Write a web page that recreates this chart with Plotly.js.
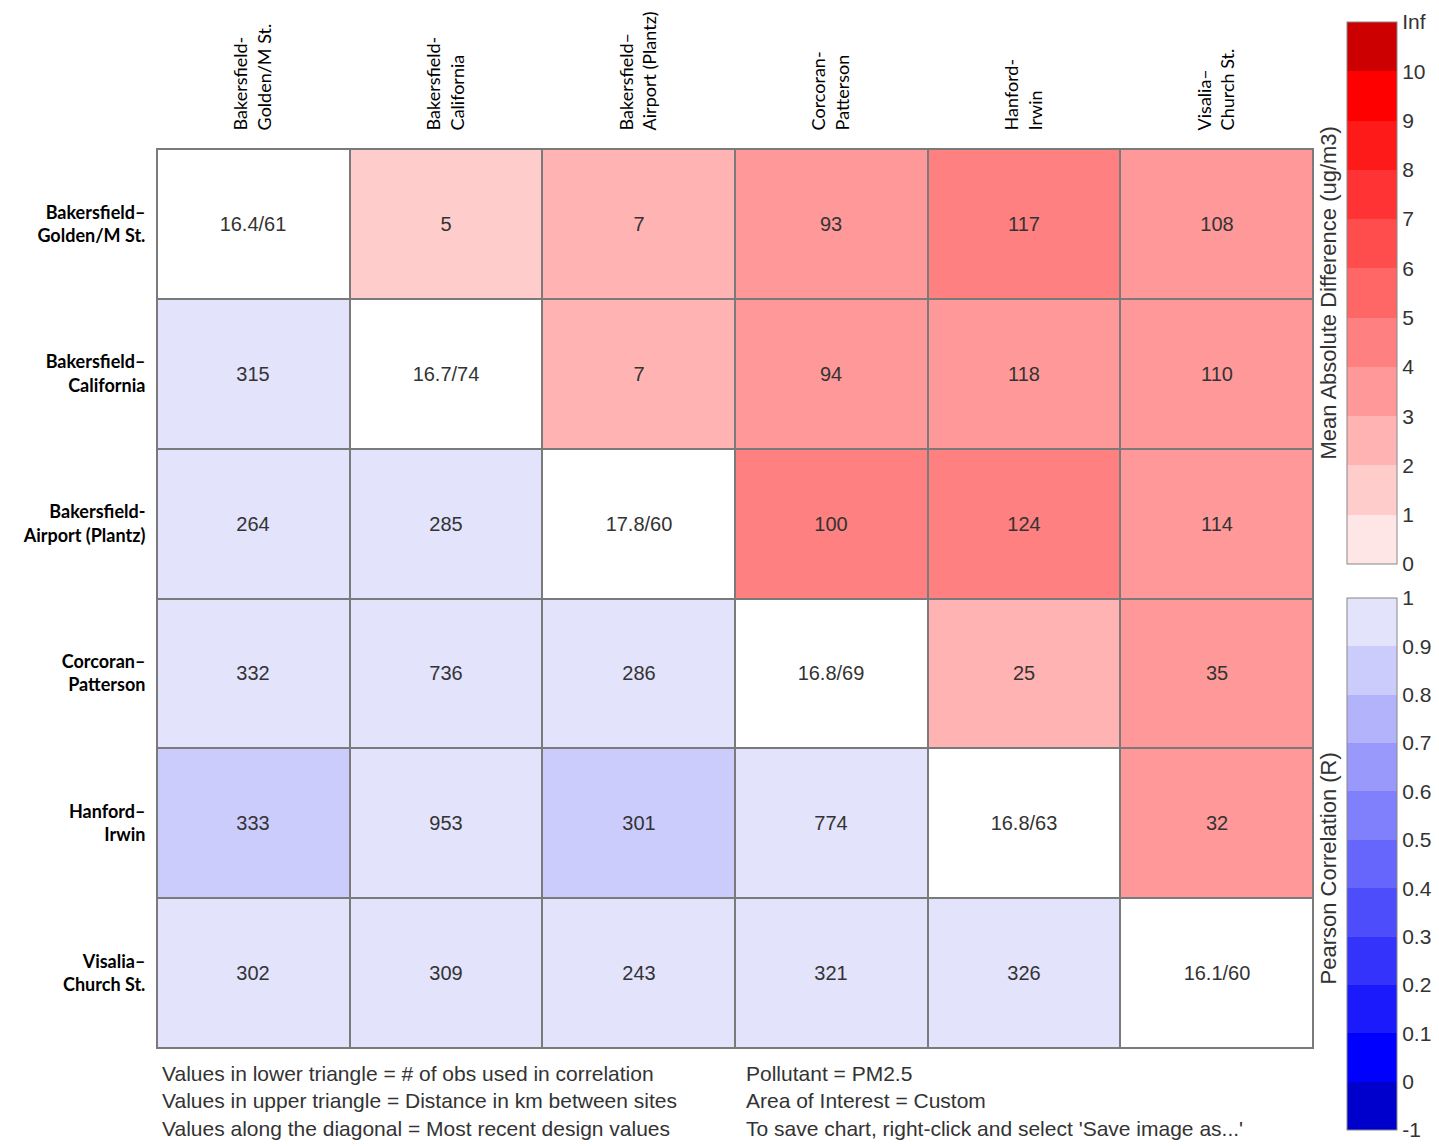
<!DOCTYPE html>
<html>
<head>
<meta charset="utf-8">
<script src="https://cdn.plot.ly/plotly-3.0.1.min.js"></script>
<style>html,body{margin:0;padding:0;background:#fff;}#chart{width:1439px;height:1146px;}</style>
</head>
<body>
<div id="chart"></div>
<script>
// ---- data ----
var rowLabels = ['Bakersfield\u2013<br>Golden/M St.', 'Bakersfield\u2013<br>California', 'Bakersfield-<br>Airport (Plantz)',
                 'Corcoran\u2013<br>Patterson', 'Hanford\u2013<br>Irwin', 'Visalia\u2013<br>Church St.'];
var colLabels = ['Bakersfield-<br>Golden/M St.', 'Bakersfield-<br>California', 'Bakersfield\u2013<br>Airport (Plantz)',
                 'Corcoran-<br>Patterson', 'Hanford-<br>Irwin', 'Visalia\u2013<br>Church St.'];
// diagonal: most recent design values
var designValues = ['16.4/61', '16.7/74', '17.8/60', '16.8/69', '16.8/63', '16.1/60'];
// upper triangle: distance in km between sites
var distanceKm = [
  [null, 5, 7, 93, 117, 108],
  [null, null, 7, 94, 118, 110],
  [null, null, null, 100, 124, 114],
  [null, null, null, null, 25, 35],
  [null, null, null, null, null, 32],
  [null, null, null, null, null, null]
];
// upper triangle: mean absolute difference (ug/m3)
var meanAbsDiff = [
  [null, 1.6, 2.5, 3.4, 4.2, 3.6],
  [null, null, 2.6, 3.5, 3.8, 3.7],
  [null, null, null, 4.3, 4.4, 3.8],
  [null, null, null, null, 2.7, 3.3],
  [null, null, null, null, null, 3.4],
  [null, null, null, null, null, null]
];
// lower triangle: number of obs used in correlation
var nObs = [
  [null, null, null, null, null, null],
  [315, null, null, null, null, null],
  [264, 285, null, null, null, null],
  [332, 736, 286, null, null, null],
  [333, 953, 301, 774, null, null],
  [302, 309, 243, 321, 326, null]
];
// lower triangle: Pearson correlation
var pearsonR = [
  [null, null, null, null, null, null],
  [0.94, null, null, null, null, null],
  [0.95, 0.94, null, null, null, null],
  [0.93, 0.96, 0.93, null, null, null],
  [0.86, 0.93, 0.87, 0.94, null, null],
  [0.93, 0.92, 0.93, 0.95, 0.94, null]
];
var madTickText = ['0', '1', '2', '3', '4', '5', '6', '7', '8', '9', '10', 'Inf'];
var rTickText = ['-1', '0', '0.1', '0.2', '0.3', '0.4', '0.5', '0.6', '0.7', '0.8', '0.9', '1'];
var redBins = ['#ffe6e6', '#ffcccc', '#ffb3b3', '#ff9999', '#ff8080', '#ff6666', '#ff4d4d', '#ff3333', '#ff1a1a', '#ff0000', '#cc0000'];
var blueBins = ['#0000cc', '#0000ff', '#1a1afc', '#3333fc', '#4d4dfc', '#6666fc', '#8080fc', '#9999fc', '#b3b3fc', '#ccccfc', '#e3e3fc'];

// ---- helpers ----
function stepScale(cols) {
  var n = cols.length, s = [];
  for (var i = 0; i < n; i++) { s.push([i / n, cols[i]]); s.push([(i + 1) / n, cols[i]]); }
  return s;
}
var idx = [0, 1, 2, 3, 4, 5];
function toText(m) { return m.map(function (r) { return r.map(function (v) { return v === null ? '' : String(v); }); }); }
// map R so that [-1,0] occupies one bin of width 0.1
var rMapped = pearsonR.map(function (r) { return r.map(function (v) { return v === null ? null : (v < 0 ? v * 0.1 : v); }); });
var diagZ = idx.map(function (i) { return idx.map(function (j) { return i === j ? 1 : null; }); });
var diagText = idx.map(function (i) { return idx.map(function (j) { return i === j ? designValues[i] : ''; }); });

var cellFont = {family: '"Liberation Sans", Arial, sans-serif', size: 20, color: '#333'};
var tickFont = {family: '"Liberation Sans", Arial, sans-serif', size: 21, color: '#333'};

var common = {x: idx, y: idx, type: 'heatmap', xgap: 2, ygap: 2, texttemplate: '%{text}', textfont: cellFont, hoverinfo: 'skip'};

var traceMad = Object.assign({}, common, {
  z: meanAbsDiff, text: toText(distanceKm), zmin: 0, zmax: 11, colorscale: stepScale(redBins),
  colorbar: {x: 1.0294, xanchor: 'left', xpad: 0, ypad: 0, thickness: 50, len: 542, lenmode: 'pixels',
             y: 0.8398, yanchor: 'middle', outlinecolor: '#888', outlinewidth: 1,
             tickmode: 'array', tickvals: [0,1,2,3,4,5,6,7,8,9,10,11], ticktext: madTickText,
             ticks: '', tickfont: tickFont}
});
var traceR = Object.assign({}, common, {
  z: rMapped, text: toText(nObs), zmin: -0.1, zmax: 1, colorscale: stepScale(blueBins),
  colorbar: {x: 1.0294, xanchor: 'left', xpad: 0, ypad: 0, thickness: 50, len: 532, lenmode: 'pixels',
             y: 0.2047, yanchor: 'middle', outlinecolor: '#888', outlinewidth: 1,
             tickmode: 'array', tickvals: [-0.1,0,0.1,0.2,0.3,0.4,0.5,0.6,0.7,0.8,0.9,1], ticktext: rTickText,
             ticks: '', tickfont: tickFont}
});
var traceDiag = Object.assign({}, common, {
  z: diagZ, text: diagText, zmin: 0, zmax: 1, colorscale: [[0, '#ffffff'], [1, '#ffffff']], showscale: false
});

var noteFont = {family: '"Liberation Sans", Arial, sans-serif', size: 21, color: '#333'};
var layout = {
  width: 1439, height: 1146,
  margin: {l: 157, r: 126, t: 149, b: 98, pad: 0},
  paper_bgcolor: '#ffffff', plot_bgcolor: '#7a7a7a',
  showlegend: false,
  xaxis: {side: 'top', range: [-0.5, 5.5], tickmode: 'array', tickvals: idx, ticktext: colLabels,
          tickangle: -90, ticks: '', showgrid: false, zeroline: false, showline: true, mirror: true,
          linecolor: '#7a7a7a', linewidth: 1, ticklabelstandoff: 14, automargin: false,
          tickfont: {family: 'Lato, "Open Sans", sans-serif', size: 18, color: '#000'}},
  yaxis: {range: [5.5, -0.5], tickmode: 'array', tickvals: idx, ticktext: rowLabels,
          ticks: '', showgrid: false, zeroline: false, showline: true, mirror: true,
          linecolor: '#7a7a7a', linewidth: 1, ticklabelstandoff: 7, automargin: false,
          tickfont: {family: 'Lato, "Open Sans", sans-serif', size: 18, color: '#000', weight: 'bold'}},
  annotations: [
    {xref: 'paper', yref: 'paper', x: 1.0294, y: 0.8398, xanchor: 'right', yanchor: 'middle', xshift: -4,
     text: 'Mean Absolute Difference (ug/m3)', textangle: -90, showarrow: false,
     font: {family: '"Liberation Sans", Arial, sans-serif', size: 22, color: '#333'}},
    {xref: 'paper', yref: 'paper', x: 1.0294, y: 0.2002, xanchor: 'right', yanchor: 'middle', xshift: -4,
     text: 'Pearson Correlation (R)', textangle: -90, showarrow: false,
     font: {family: '"Liberation Sans", Arial, sans-serif', size: 22, color: '#333'}},
    {xref: 'paper', yref: 'paper', x: 0, y: 0, xanchor: 'left', yanchor: 'top', xshift: 3, yshift: -12, align: 'left',
     text: 'Values in lower triangle = # of obs used in correlation<br>Values in upper triangle = Distance in km between sites<br>Values along the diagonal = Most recent design values',
     showarrow: false, font: noteFont},
    {xref: 'paper', yref: 'paper', x: 0.5078, y: 0, xanchor: 'left', yanchor: 'top', xshift: 0, yshift: -12, align: 'left',
     text: 'Pollutant = PM2.5<br>Area of Interest = Custom<br>To save chart, right-click and select \'Save image as...\'',
     showarrow: false, font: noteFont}
  ]
};
Plotly.newPlot('chart', [traceMad, traceR, traceDiag], layout, {displayModeBar: false, staticPlot: true});
</script>
</body>
</html>
